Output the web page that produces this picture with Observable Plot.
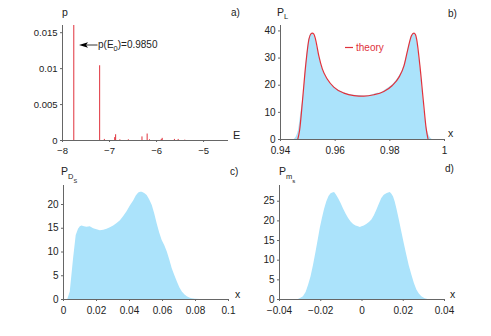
<!DOCTYPE html>
<html>
<head>
<meta charset="utf-8">
<script src="https://cdn.jsdelivr.net/npm/d3@7"></script>
<script src="https://cdn.jsdelivr.net/npm/@observablehq/plot@0.6"></script>
<style>
  html, body { margin: 0; padding: 0; background: #fff; }
  #fig { position: relative; width: 491px; height: 336px; font-family: "Liberation Sans", Arial, sans-serif; }
  .panel { position: absolute; }
  #overlay { position: absolute; left: 0; top: 0; pointer-events: none; }
</style>
</head>
<body>
<div id="fig"></div>
<script>
// ---------- Panel a: level populations ----------
const energyLevels = [-7.76, -7.21, -7.11, -6.89, -6.87, -6.78, -6.60, -6.31, -6.20, -6.15, -5.90, -5.88, -5.62, -5.54, -5.40];
const levelProb    = [0.985, 0.0104, 0.00015, 0.0004, 0.0008, 0.0001, 0.0001, 0.0005, 0.0009, 0.0001, 0.00015, 0.0003, 0.00015, 0.00015, 0.00005];
const ticksA_x = [-8, -7, -6, -5];
const ticksA_y = [0, 0.005, 0.01, 0.015];

// ---------- Panel b: P_L ----------
const theoryX = [0.9463, 0.9470, 0.9480, 0.9492, 0.9504, 0.9512, 0.9516, 0.9522, 0.9528, 0.9540, 0.9553, 0.9571, 0.9595, 0.9632, 0.9669, 0.9705, 0.9742, 0.9778, 0.9809, 0.9833, 0.9852, 0.9866, 0.9879, 0.9888, 0.9894, 0.9898, 0.9910, 0.9923, 0.9933, 0.9940];
const theoryY = [0, 3.5, 13.8, 27.2, 37, 39, 39.2, 38.8, 37, 30.9, 26, 22.3, 19.3, 17.1, 16.2, 16.0, 16.5, 17.7, 19.9, 22.9, 27.2, 33.3, 38.2, 39.2, 38.6, 37, 27.2, 13.8, 4, 0];
const histLX = [0.9450, 0.9458, 0.9466, 0.9475, 0.9485, 0.9495, 0.9505, 0.9512, 0.9518, 0.9525, 0.9535, 0.9545, 0.9555, 0.9570, 0.9590, 0.9610, 0.9630, 0.9650, 0.9670, 0.9690, 0.9710, 0.9730, 0.9750, 0.9770, 0.9790, 0.9810, 0.9830, 0.9845, 0.9860, 0.9872, 0.9882, 0.9890, 0.9898, 0.9908, 0.9918, 0.9928, 0.9938, 0.9946, 0.9955];
const histLY = [0, 1.0, 3.5, 10, 17.5, 29.5, 37, 38.8, 38.9, 37.6, 33.5, 29, 25.6, 22.5, 19.8, 18.3, 17.3, 16.7, 16.3, 16.2, 15.9, 16.3, 16.9, 17.3, 18.7, 20.2, 22.6, 25.2, 30, 35.3, 38.4, 39, 37, 29.5, 19.5, 9, 3, 1, 0];
const ticksB_x = [0.94, 0.96, 0.98, 1];
const ticksB_y = [0, 10, 20, 30, 40];

// ---------- Panel c: P_Ds ----------
const histDX = [0.0026, 0.0041, 0.0061, 0.0077, 0.0091, 0.0102, 0.0112, 0.0127, 0.0142, 0.0162, 0.0183, 0.0203, 0.0223, 0.0244, 0.0264, 0.0284, 0.0304, 0.0325, 0.0345, 0.0365, 0.0385, 0.0405, 0.0426, 0.0441, 0.0456, 0.0467, 0.0477, 0.0492, 0.0507, 0.0522, 0.0538, 0.0553, 0.0568, 0.0583, 0.0598, 0.0614, 0.0629, 0.0644, 0.0659, 0.0675, 0.0690, 0.0705, 0.0720, 0.0735, 0.0750, 0.0765, 0.0780, 0.0800, 0.0830];
const histDY = [0, 1.6, 8.6, 13.5, 14.8, 15.3, 15.5, 15.3, 15.2, 15.3, 14.9, 14.7, 14.5, 14.6, 14.8, 15.1, 15.5, 16.0, 16.6, 17.5, 18.5, 19.7, 20.8, 21.8, 22.4, 22.6, 22.6, 22.3, 21.9, 21.0, 19.8, 18.0, 15.9, 14.0, 12.4, 11.3, 10.0, 8.3, 6.5, 5.0, 3.7, 2.5, 1.6, 1.0, 0.6, 0.3, 0.15, 0.05, 0];
const ticksC_x = [0, 0.02, 0.04, 0.06, 0.08, 0.1];
const ticksC_y = [0, 5, 10, 15, 20];

// ---------- Panel d: P_ms ----------
const histMX = [-0.0308, -0.0296, -0.0284, -0.0271, -0.0259, -0.0247, -0.0235, -0.0223, -0.0211, -0.0202, -0.0192, -0.0182, -0.0171, -0.0160, -0.0150, -0.0142, -0.0133, -0.0124, -0.0114, -0.0102, -0.0090, -0.0078, -0.0065, -0.0053, -0.0041, -0.0029, -0.0017, -0.0008, 0, 0.0011, 0.0023, 0.0036, 0.0048, 0.0060, 0.0072, 0.0084, 0.0096, 0.0108, 0.0120, 0.0129, 0.0137, 0.0145, 0.0153, 0.0161, 0.0169, 0.0181, 0.0193, 0.0205, 0.0217, 0.0229, 0.0242, 0.0254, 0.0266, 0.0278, 0.0290, 0.0306, 0.0320];
const histMY = [0, 0.3, 0.7, 1.8, 3.6, 5.8, 8.7, 12.0, 15.5, 18.2, 20.6, 22.8, 24.8, 26.2, 26.9, 27.1, 27.2, 26.6, 25.7, 24.5, 23.1, 21.8, 20.6, 19.7, 19.1, 18.7, 18.5, 18.3, 18.5, 18.7, 19.1, 19.6, 20.2, 21.3, 22.7, 24.2, 25.7, 26.5, 26.9, 27.1, 27.2, 26.8, 26.1, 24.8, 23.1, 20.2, 17.2, 14.2, 11.3, 8.6, 6.2, 4.1, 2.4, 1.4, 0.7, 0.2, 0];
const ticksD_x = [-0.04, -0.02, 0, 0.02, 0.04];
const ticksD_y = [0, 5, 10, 15, 20, 25];

// ---------- styling ----------
const RED = "#e0323c";
const FILL = "#abe3fb";
const AXIS = "#666";
const TXT = "#222";
const fmt = d => (d === 0 ? "0" : String(d).replace("-", "\u2212"));
const zip = (xs, ys) => xs.map((x, i) => ({x, y: ys[i]}));

const fig = document.getElementById("fig");

function place(plot, left, top) {
  const div = document.createElement("div");
  div.className = "panel";
  div.style.left = left + "px";
  div.style.top = top + "px";
  div.appendChild(plot);
  fig.appendChild(div);
}

function axes(xt, yt, fs) {
  return [
    Plot.axisX(xt, {tickSize: 2, tickPadding: 5, fontSize: fs, stroke: AXIS, fill: TXT, tickFormat: fmt, label: null}),
    Plot.axisY(yt, {tickSize: 2, tickPadding: 3, fontSize: fs, stroke: AXIS, fill: TXT, tickFormat: fmt, label: null})
  ];
}

const common = {style: {fontFamily: "'Liberation Sans', Arial, sans-serif", background: "transparent", overflow: "visible"}};

// Panel a
place(Plot.plot({
  ...common,
  width: 245, height: 168,
  marginLeft: 62, marginRight: 17, marginTop: 25, marginBottom: 28,
  x: {domain: [-8, -4.47]},
  y: {domain: [0, 0.016]},
  marks: [
    Plot.ruleX(energyLevels.map((E, i) => ({E, p: levelProb[i]})), {x: "E", y1: 0, y2: "p", stroke: RED, strokeWidth: 1, clip: true}),
    Plot.ruleY([0], {stroke: AXIS}),
    Plot.ruleX([-8], {stroke: AXIS}),
    ...axes(ticksA_x, ticksA_y, 9.5)
  ]
}), 0, 0);

// Panel b
place(Plot.plot({
  ...common,
  width: 246, height: 168,
  marginLeft: 35, marginRight: 47, marginTop: 25, marginBottom: 29,
  x: {domain: [0.94, 1.0]},
  y: {domain: [0, 42]},
  marks: [
    Plot.areaY(zip(histLX, histLY), {x: "x", y: "y", fill: FILL, curve: "monotone-x"}),
    Plot.line(zip(theoryX, theoryY), {x: "x", y: "y", stroke: RED, strokeWidth: 1.2, curve: "monotone-x"}),
    Plot.ruleY([0], {stroke: AXIS}),
    Plot.ruleX([0.94], {stroke: AXIS}),
    ...axes(ticksB_x, ticksB_y, 10)
  ]
}), 245, 0);

// Panel c
place(Plot.plot({
  ...common,
  width: 245, height: 168,
  marginLeft: 63, marginRight: 17, marginTop: 17, marginBottom: 37,
  x: {domain: [0, 0.1]},
  y: {domain: [0, 24]},
  marks: [
    Plot.areaY(zip(histDX, histDY), {x: "x", y: "y", fill: FILL}),
    Plot.ruleY([0], {stroke: AXIS}),
    Plot.ruleX([0], {stroke: AXIS}),
    ...axes(ticksC_x, ticksC_y, 10)
  ]
}), 0, 168);

// Panel d
place(Plot.plot({
  ...common,
  width: 246, height: 168,
  marginLeft: 34, marginRight: 47, marginTop: 17, marginBottom: 37,
  x: {domain: [-0.04, 0.04]},
  y: {domain: [0, 29]},
  marks: [
    Plot.areaY(zip(histMX, histMY), {x: "x", y: "y", fill: FILL}),
    Plot.ruleY([0], {stroke: AXIS}),
    Plot.ruleX([-0.04], {stroke: AXIS}),
    ...axes(ticksD_x, ticksD_y, 10)
  ]
}), 245, 168);

// ---------- labels overlay ----------
const svg = d3.select(fig).append("svg")
  .attr("id", "overlay").attr("width", 491).attr("height", 336)
  .style("font-family", "'Liberation Sans', Arial, sans-serif")
  .attr("fill", TXT);

function label(x, y, parts, size = 10, color = TXT) {
  const t = svg.append("text").attr("x", x).attr("y", y).attr("font-size", size).attr("fill", color);
  parts.forEach(p => {
    const s = t.append("tspan").text(p.t);
    if (p.dy) s.attr("dy", p.dy);
    if (p.size) s.attr("font-size", p.size);
  });
}

// panel a
label(62, 16, [{t: "p"}], 10.5);
label(231, 16, [{t: "a)"}], 10);
label(233, 139, [{t: "E"}], 11);
label(98, 48, [{t: "p(E"}, {t: "0", dy: 3, size: 7.5}, {t: ")=0.9850", dy: -3}], 10);
svg.append("line").attr("x1", 86).attr("x2", 97.5).attr("y1", 45).attr("y2", 45).attr("stroke", "#000").attr("stroke-width", 0.8);
svg.append("path").attr("d", "M79,45 L88,42.3 L86,45 L88,47.7 Z").attr("fill", "#000");

// panel b
label(277, 16, [{t: "P"}, {t: "L", dy: 3, size: 7.5}], 10.5);
label(448, 17, [{t: "b)"}], 10);
label(448, 137, [{t: "x"}], 10.5);
svg.append("line").attr("x1", 345).attr("x2", 353).attr("y1", 47.5).attr("y2", 47.5).attr("stroke", RED).attr("stroke-width", 1.2);
label(356, 51, [{t: "theory"}], 10, RED);

// panel c
label(61, 175, [{t: "P"}, {t: "D", dy: 4, size: 7.5}, {t: "S", dy: 4, size: 5.5}], 10.5);
label(230, 175, [{t: "c)"}], 10);
label(235, 298, [{t: "x"}], 10.5);

// panel d
label(279, 175, [{t: "P"}, {t: "m", dy: 4, size: 7.5}, {t: "s", dy: 4, size: 6}], 10.5);
label(445, 172, [{t: "d)"}], 10);
label(450, 298, [{t: "x"}], 10.5);
</script>
</body>
</html>
